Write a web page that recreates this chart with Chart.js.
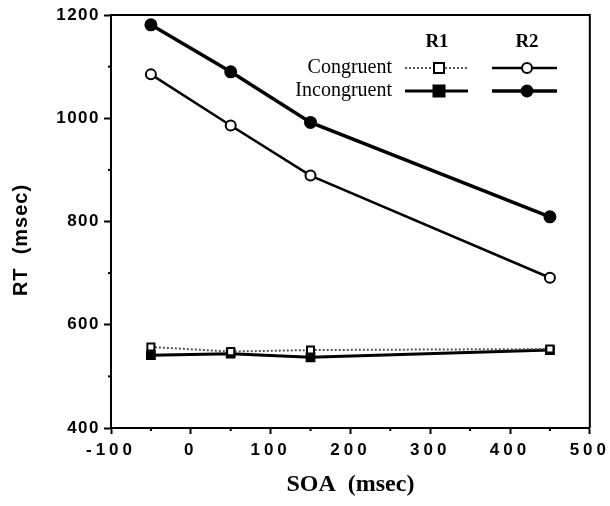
<!DOCTYPE html>
<html>
<head>
<meta charset="utf-8">
<script src="https://cdn.jsdelivr.net/npm/chart.js"></script>
<style>
  html, body { margin: 0; padding: 0; background: #fff; }
  .container { width: 610px; height: 506px; position: relative; }
</style>
</head>
<body>
<div class="container"><canvas id="myChart" width="610" height="506"></canvas></div>
<script>
// SOA values (msec)
const soa = [-50, 50, 150, 450];

// RT values (msec)
const r1Congruent = [557, 548, 551, 553];
const r1Incongruent = [541, 544, 537, 551];
const r2Congruent = [1085, 986, 889, 691];
const r2Incongruent = [1181, 1090, 992, 809];

const xTicks = [-100, 0, 100, 200, 300, 400, 500];
const yTicks = [400, 600, 800, 1000, 1200];
const xMinor = [-50, 50, 150, 250, 350, 450];
const yMinor = [500, 700, 900, 1100];

function toPoints(values) {
  return soa.map((x, i) => ({ x: x, y: values[i] }));
}

// wrap tick label drawing so each axis gets its own letter spacing
function spaceLabels(scale, spacing) {
  if (scale._spaced) return;
  const orig = scale.drawLabels;
  scale.drawLabels = function (area) {
    const c = this.ctx;
    c.save();
    c.letterSpacing = spacing;
    orig.call(this, area);
    c.restore();
  };
  scale._spaced = true;
}

// frame on top and right, minor ticks, y title and the legend block
const framePlugin = {
  id: "frame",
  afterUpdate(chart) {
    spaceLabels(chart.scales.x, "4px");
    spaceLabels(chart.scales.y, "1.5px");
  },
  afterDraw(chart) {
    const ctx = chart.ctx;
    const area = chart.chartArea;
    const xs = chart.scales.x;
    const ys = chart.scales.y;
    ctx.save();
    ctx.strokeStyle = "#000";
    ctx.lineWidth = 2;
    ctx.beginPath();
    ctx.moveTo(area.left, area.top);
    ctx.lineTo(area.right, area.top);
    ctx.lineTo(area.right, area.bottom);
    ctx.stroke();

    xMinor.forEach((v) => {
      const px = xs.getPixelForValue(v);
      ctx.beginPath();
      ctx.moveTo(px, area.bottom);
      ctx.lineTo(px, area.bottom + 3);
      ctx.stroke();
    });
    yMinor.forEach((v) => {
      const py = ys.getPixelForValue(v);
      ctx.beginPath();
      ctx.moveTo(area.left, py);
      ctx.lineTo(area.left - 3, py);
      ctx.stroke();
    });

    // y axis title
    ctx.save();
    ctx.translate(21, 240);
    ctx.rotate(-Math.PI / 2);
    ctx.letterSpacing = "1px";
    ctx.fillStyle = "#000";
    ctx.textAlign = "center";
    ctx.textBaseline = "middle";
    ctx.font = "bold 20px 'Liberation Sans', Arial";
    ctx.fillText("RT  (msec)", 0, 0);
    ctx.restore();

    // legend
    ctx.fillStyle = "#000";
    ctx.textBaseline = "middle";
    ctx.font = "bold 19px 'Liberation Serif'";
    ctx.textAlign = "center";
    ctx.fillText("R1", 437, 42);
    ctx.fillText("R2", 527, 42);
    ctx.font = "20px 'Liberation Serif'";
    ctx.textAlign = "right";
    ctx.fillText("Congruent", 392, 68);
    ctx.fillText("Incongruent", 392, 91);

    function sample(x1, x2, y, mx, ds) {
      ctx.save();
      ctx.strokeStyle = ds.borderColor;
      ctx.lineWidth = ds.borderWidth;
      ctx.setLineDash(ds.borderDash || []);
      ctx.beginPath();
      ctx.moveTo(x1, y);
      ctx.lineTo(x2, y);
      ctx.stroke();
      ctx.setLineDash([]);
      ctx.lineWidth = 2;
      ctx.strokeStyle = "#000";
      ctx.fillStyle = ds.pointBackgroundColor;
      const r = ds.pointRadius;
      ctx.beginPath();
      if (ds.pointStyle === "rect") {
        ctx.rect(mx - r, y - r, 2 * r, 2 * r);
      } else {
        ctx.arc(mx, y, r, 0, Math.PI * 2);
      }
      ctx.fill();
      ctx.stroke();
      ctx.restore();
    }
    const d = chart.data.datasets;
    sample(405, 468, 68, 439, d[0]);
    sample(405, 468, 91, 439, d[1]);
    sample(492, 557, 68, 527, d[2]);
    sample(492, 557, 91, 527, d[3]);
    ctx.restore();
  },
};

const ctx = document.getElementById("myChart");
const chart = new Chart(ctx, {
  type: "line",
  data: {
    datasets: [
      {
        label: "R1 Congruent",
        data: toPoints(r1Congruent),
        borderColor: "#555",
        borderWidth: 2,
        borderDash: [2, 2],
        pointStyle: "rect",
        pointRadius: 5,
        pointBackgroundColor: "#fff",
        pointBorderColor: "#000",
        pointBorderWidth: 2,
      },
      {
        label: "R1 Incongruent",
        data: toPoints(r1Incongruent),
        borderColor: "#000",
        borderWidth: 3,
        pointStyle: "rect",
        pointRadius: 5.5,
        pointBackgroundColor: "#000",
        pointBorderColor: "#000",
        pointBorderWidth: 2,
      },
      {
        label: "R2 Congruent",
        data: toPoints(r2Congruent),
        borderColor: "#000",
        borderWidth: 2.5,
        pointStyle: "circle",
        pointRadius: 5,
        pointBackgroundColor: "#fff",
        pointBorderColor: "#000",
        pointBorderWidth: 2,
      },
      {
        label: "R2 Incongruent",
        data: toPoints(r2Incongruent),
        borderColor: "#000",
        borderWidth: 3.5,
        pointStyle: "circle",
        pointRadius: 5.5,
        pointBackgroundColor: "#000",
        pointBorderColor: "#000",
        pointBorderWidth: 2,
      },
    ],
  },
  options: {
    responsive: false,
    animation: false,
    layout: { padding: { left: 0, right: 19, top: 15, bottom: 0 } },
    plugins: { legend: { display: false }, tooltip: { enabled: false } },
    scales: {
      x: {
        type: "linear",
        min: -100,
        max: 500,
        afterBuildTicks: (scale) => {
          scale.ticks = xTicks.map((v) => ({ value: v }));
        },
        afterFit: (scale) => {
          scale.height = 78;
        },
        border: { color: "#000", width: 2 },
        grid: { drawOnChartArea: false, tickLength: 6, tickColor: "#000", tickWidth: 2 },
        ticks: {
          color: "#000",
          padding: 6,
          maxRotation: 0,
          callback: (v) => String(v),
          font: { family: "'Liberation Sans', Arial", size: 17, weight: "bold" },
        },
        title: {
          display: true,
          text: "SOA  (msec)",
          color: "#000",
          padding: { top: 0, bottom: 7 },
          font: { family: "'Liberation Serif'", size: 24, weight: "bold" },
        },
      },
      y: {
        type: "linear",
        min: 400,
        max: 1200,
        afterBuildTicks: (scale) => {
          scale.ticks = yTicks.map((v) => ({ value: v }));
        },
        afterFit: (scale) => {
          scale.width = 111;
        },
        border: { color: "#000", width: 2 },
        grid: { drawOnChartArea: false, tickLength: 7, tickColor: "#000", tickWidth: 2 },
        ticks: {
          color: "#000",
          padding: 4,
          callback: (v) => String(v),
          font: { family: "'Liberation Sans', Arial", size: 17, weight: "bold" },
        },
      },
    },
  },
  plugins: [framePlugin],
});
</script>
</body>
</html>
